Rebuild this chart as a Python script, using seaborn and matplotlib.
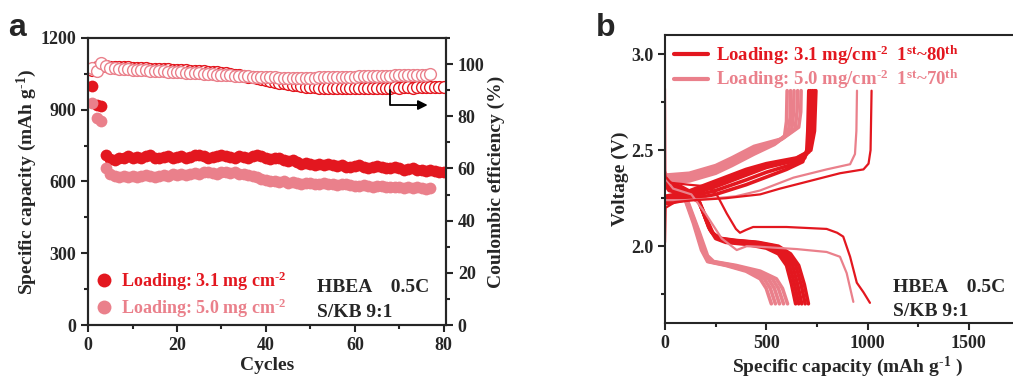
import matplotlib
matplotlib.use('Agg')
import matplotlib.pyplot as plt
import seaborn as sns
from matplotlib.lines import Line2D
from matplotlib.ticker import MultipleLocator

RED = '#E3171F'
PINK = '#EA808B'

# ---- panel a: cycling data ----
cycles_31 = list(range(1, 81))
cycles_50 = list(range(1, 78))

cap_31 = [1000, 920, 915, 712, 695, 690, 700, 698, 705, 700,
          702, 698, 705, 710, 700, 698, 702, 706, 700, 703,
          708, 700, 702, 710, 712, 705, 700, 702, 706, 712,
          708, 702, 700, 705, 703, 700, 708, 712, 706, 700,
          695, 698, 700, 690, 685, 688, 680, 675, 678, 672,
          670, 675, 668, 672, 670, 665, 668, 662, 660, 665,
          668, 660, 658, 662, 665, 660, 655, 658, 660, 655,
          650, 652, 655, 648, 650, 645, 648, 642, 640, 638]

cap_50 = [928, 865, 855, 655, 630, 622, 620, 625, 618, 622,
          620, 625, 628, 622, 620, 625, 628, 625, 630, 628,
          632, 628, 630, 635, 632, 638, 640, 635, 632, 638,
          640, 635, 638, 632, 630, 628, 625, 620, 612, 605,
          600, 602, 598, 600, 595, 598, 592, 590, 595, 592,
          590, 588, 592, 590, 588, 585, 590, 588, 585, 580,
          582, 585, 580, 578, 582, 580, 578, 575, 578, 575,
          573, 575, 572, 575, 573, 570, 572]

ce_31 = [97.6, 98.9, 99.6, 99.2, 99.0, 98.9, 98.8, 98.7, 98.7, 98.6,
         98.5, 98.4, 98.4, 98.3, 98.2, 98.1, 98.0, 98.0, 97.9, 97.8,
         97.7, 97.6, 97.5, 97.4, 97.3, 97.2, 97.1, 96.9, 96.8, 96.6,
         96.4, 96.2, 96.0, 95.8, 95.5, 95.2, 94.9, 94.6, 94.3, 94.0,
         93.6, 93.2, 92.9, 92.6, 92.3, 92.0, 91.8, 91.6, 91.4, 91.3,
         91.1, 91.0, 91.0, 90.9, 90.9, 90.8, 90.8, 90.9, 90.8, 90.8,
         90.9, 90.8, 90.9, 90.9, 91.0, 90.9, 91.0, 91.0, 91.1, 91.0,
         91.1, 91.1, 91.0, 91.2, 91.1, 91.2, 91.2, 91.3, 91.2, 91.3]

ce_50 = [98.5, 97.2, 100.4, 99.3, 98.6, 98.4, 98.3, 98.1, 98.0, 97.9,
         97.8, 97.7, 97.6, 97.5, 97.4, 97.3, 97.2, 97.1, 97.0, 96.9,
         96.8, 96.7, 96.6, 96.5, 96.4, 96.3, 96.2, 96.1, 96.0, 95.9,
         95.8, 95.7, 95.6, 95.5, 95.4, 95.3, 95.2, 95.1, 95.0, 95.0,
         94.9, 94.9, 94.8, 94.8, 94.8, 94.7, 94.8, 94.7, 94.8, 94.8,
         94.8, 94.9, 94.9, 95.0, 95.0, 95.0, 95.1, 95.1, 95.2, 95.2,
         95.3, 95.3, 95.4, 95.4, 95.5, 95.5, 95.6, 95.6, 95.7, 95.7,
         95.8, 95.8, 95.9, 95.9, 96.0, 96.0, 96.1]

# ---- panel b: voltage profiles (capacity mAh/g, voltage V) ----
red_first_dis = [(0, 2.39), (3, 2.36), (30, 2.33), (120, 2.32), (222, 2.31), (260, 2.26),
                 (305, 2.17), (350, 2.09), (370, 2.07), (400, 2.085), (435, 2.10), (600, 2.10),
                 (798, 2.09), (850, 2.07), (880, 2.05), (914, 1.945), (947, 1.81), (980, 1.76),
                 (1012, 1.705)]
red_first_chg = [(0, 2.02), (3, 2.2), (50, 2.23), (150, 2.24), (300, 2.25), (470, 2.27),
                 (568, 2.30), (716, 2.34), (864, 2.38), (980, 2.40), (1005, 2.43), (1015, 2.5),
                 (1020, 2.81)]
pink_first_dis = [(0, 2.82), (3, 2.35), (40, 2.30), (130, 2.27), (200, 2.17), (280, 2.04),
                  (354, 1.98), (403, 2.0), (469, 1.997), (650, 1.985), (798, 1.97), (864, 1.945),
                  (897, 1.86), (930, 1.71)]
pink_first_chg = [(0, 2.24), (100, 2.24), (250, 2.25), (350, 2.26), (469, 2.29), (634, 2.357),
                  (798, 2.40), (914, 2.427), (938, 2.48), (945, 2.6), (948, 2.81)]

red_dis = [
    [(0, 2.36), (20, 2.33), (80, 2.31), (150, 2.27), (180, 2.2), (215, 2.1), (250, 2.04),
     (300, 2.02), (400, 2.01), (500, 1.99), (560, 1.96), (600, 1.90), (625, 1.80), (645, 1.70)],
    [(0, 2.35), (20, 2.32), (85, 2.30), (155, 2.26), (188, 2.18), (220, 2.09), (258, 2.04),
     (310, 2.025), (415, 2.015), (515, 1.995), (575, 1.96), (615, 1.90), (640, 1.80), (660, 1.70)],
    [(0, 2.34), (20, 2.31), (90, 2.29), (160, 2.25), (195, 2.16), (225, 2.08), (265, 2.04),
     (320, 2.03), (430, 2.02), (530, 2.0), (590, 1.96), (630, 1.90), (655, 1.80), (675, 1.70)],
    [(0, 2.33), (20, 2.30), (95, 2.28), (165, 2.24), (202, 2.14), (232, 2.07), (272, 2.04),
     (335, 2.03), (445, 2.02), (545, 2.0), (605, 1.96), (645, 1.90), (672, 1.80), (692, 1.70)],
    [(0, 2.32), (20, 2.29), (100, 2.27), (170, 2.23), (210, 2.13), (240, 2.06), (280, 2.04),
     (350, 2.03), (460, 2.02), (560, 2.0), (620, 1.96), (660, 1.90), (688, 1.80), (708, 1.70)],
]
red_chg = [
    [(0, 2.22), (100, 2.24), (250, 2.27), (400, 2.32), (500, 2.36), (600, 2.40), (680, 2.44),
     (700, 2.5), (705, 2.6), (710, 2.81)],
    [(0, 2.23), (100, 2.25), (250, 2.29), (400, 2.345), (500, 2.385), (610, 2.42), (690, 2.46),
     (710, 2.52), (715, 2.62), (719, 2.81)],
    [(0, 2.24), (100, 2.26), (250, 2.31), (400, 2.37), (500, 2.41), (620, 2.44), (700, 2.48),
     (720, 2.55), (725, 2.65), (728, 2.81)],
    [(0, 2.25), (100, 2.27), (250, 2.325), (400, 2.385), (500, 2.42), (635, 2.45), (710, 2.49),
     (729, 2.57), (735, 2.65), (737, 2.81)],
    [(0, 2.26), (100, 2.28), (250, 2.34), (400, 2.40), (500, 2.43), (650, 2.46), (720, 2.5),
     (738, 2.6), (745, 2.81)],
]
pink_dis = [
    [(0, 2.38), (30, 2.34), (90, 2.27), (140, 2.12), (180, 1.98), (210, 1.92), (300, 1.90),
     (400, 1.87), (470, 1.83), (500, 1.78), (525, 1.70)],
    [(0, 2.375), (30, 2.335), (95, 2.26), (148, 2.11), (188, 1.97), (218, 1.92), (310, 1.90),
     (415, 1.87), (490, 1.83), (520, 1.78), (545, 1.70)],
    [(0, 2.37), (30, 2.33), (100, 2.25), (155, 2.10), (195, 1.96), (225, 1.92), (320, 1.90),
     (430, 1.87), (510, 1.83), (540, 1.78), (565, 1.70)],
    [(0, 2.365), (30, 2.325), (105, 2.245), (162, 2.085), (202, 1.955), (232, 1.92), (335, 1.90),
     (450, 1.87), (530, 1.83), (560, 1.78), (585, 1.70)],
    [(0, 2.36), (30, 2.32), (110, 2.24), (170, 2.07), (210, 1.95), (240, 1.92), (350, 1.90),
     (470, 1.87), (550, 1.83), (580, 1.78), (605, 1.70)],
]
pink_chg = [
    [(0, 2.33), (120, 2.34), (250, 2.38), (330, 2.42), (440, 2.48), (540, 2.53), (590, 2.57),
     (600, 2.65), (603, 2.81)],
    [(0, 2.34), (120, 2.35), (250, 2.39), (330, 2.43), (440, 2.49), (550, 2.54), (608, 2.585),
     (618, 2.67), (620, 2.81)],
    [(0, 2.35), (120, 2.36), (250, 2.40), (330, 2.44), (440, 2.50), (560, 2.55), (625, 2.6),
     (635, 2.7), (637, 2.81)],
    [(0, 2.36), (120, 2.37), (250, 2.41), (330, 2.45), (440, 2.51), (570, 2.555), (642, 2.61),
     (652, 2.7), (655, 2.81)],
    [(0, 2.37), (120, 2.38), (250, 2.42), (330, 2.46), (440, 2.52), (580, 2.56), (660, 2.62),
     (670, 2.7), (672, 2.81)],
]

sns.set_style('ticks')
plt.rcParams['font.family'] = ['Liberation Serif', 'DejaVu Serif']
plt.rcParams['font.weight'] = 'bold'
plt.rcParams['axes.labelweight'] = 'bold'
plt.rcParams['mathtext.fontset'] = 'custom'
plt.rcParams['mathtext.rm'] = 'Liberation Serif:bold'
plt.rcParams['mathtext.it'] = 'Liberation Serif:bold'
plt.rcParams['mathtext.bf'] = 'Liberation Serif:bold'
plt.rcParams['mathtext.default'] = 'regular'
plt.rcParams['axes.linewidth'] = 1.5

fig = plt.figure(figsize=(10.13, 3.78), dpi=100)


def style_ticks(axis):
    axis.tick_params(which='major', direction='out', length=5, width=1.5, labelsize=13)
    axis.tick_params(which='minor', direction='out', length=3, width=1.5)


SUP = '$^{\\text{-2}}$'

# ================= panel a =================
ax = fig.add_axes([0.0869, 0.1402, 0.3534, 0.7593])
sns.scatterplot(x=cycles_31, y=cap_31, color=RED, s=72, linewidth=0, ax=ax, zorder=3)
sns.scatterplot(x=cycles_50, y=cap_50, color=PINK, s=72, linewidth=0, ax=ax, zorder=3)
ax.set_xlim(0, 80.5)
ax.set_ylim(0, 1200)
ax.xaxis.set_major_locator(MultipleLocator(20))
ax.xaxis.set_minor_locator(MultipleLocator(10))
ax.yaxis.set_major_locator(MultipleLocator(300))
ax.yaxis.set_minor_locator(MultipleLocator(150))
style_ticks(ax)
ax.set_xlabel('Cycles', fontsize=14, labelpad=2)
ax.set_ylabel('Specific capacity (mAh g$^{\\text{-1}}$)', fontsize=14, labelpad=1)

ax2 = ax.twinx()
sns.scatterplot(x=cycles_31, y=ce_31, s=72, facecolor='white', edgecolor=RED,
                linewidth=1.0, ax=ax2)
sns.scatterplot(x=cycles_50, y=ce_50, s=72, facecolor='white', edgecolor=PINK,
                linewidth=1.0, ax=ax2)
ax2.set_ylim(0, 110)
ax2.yaxis.set_major_locator(MultipleLocator(20))
ax2.yaxis.set_minor_locator(MultipleLocator(10))
style_ticks(ax2)
ax2.set_ylabel('Coulombic efficiency (%)', fontsize=14, rotation=90, labelpad=2)
for sp in ax2.spines.values():
    sp.set_linewidth(1.5)

# arrow pointing to the right axis
ax2.plot([68, 68, 72], [90, 84.3, 84.3], color='black', lw=1.3)
ax2.annotate('', xy=(77, 84.3), xytext=(71.5, 84.3),
             arrowprops=dict(arrowstyle='-|>', color='black', lw=1.3, mutation_scale=14))

handles_a = [Line2D([], [], ls='none', marker='o', ms=10, color=RED, mec='none'),
             Line2D([], [], ls='none', marker='o', ms=10, color=PINK, mec='none')]
leg = ax.legend(handles_a, ['Loading: 3.1 mg cm' + SUP, 'Loading: 5.0 mg cm' + SUP],
                loc='lower left', bbox_to_anchor=(-0.02, -0.025), frameon=False,
                fontsize=13, handletextpad=0.3, labelspacing=0.2, borderaxespad=0.3,
                handlelength=1.2)
for t, c in zip(leg.get_texts(), [RED, PINK]):
    t.set_color(c)
ax.text(51.5, 155, 'HBEA    0.5C', fontsize=14, va='center')
ax.text(51.5, 54, 'S/KB 9:1', fontsize=14, va='center')

# ================= panel b =================
bx = fig.add_axes([0.6565, 0.1455, 0.3598, 0.7619])
for pts in pink_dis + pink_chg:
    xs, ys = zip(*pts)
    sns.lineplot(x=list(xs), y=list(ys), sort=False, estimator=None, color=PINK, lw=2.6, ax=bx)
for pts in red_dis + red_chg:
    xs, ys = zip(*pts)
    sns.lineplot(x=list(xs), y=list(ys), sort=False, estimator=None, color=RED, lw=2.6, ax=bx)
for pts, c in [(pink_first_dis, PINK), (pink_first_chg, PINK),
               (red_first_dis, RED), (red_first_chg, RED)]:
    xs, ys = zip(*pts)
    sns.lineplot(x=list(xs), y=list(ys), sort=False, estimator=None, color=c, lw=1.6, ax=bx)

bx.set_xlim(0, 1800)
bx.set_ylim(1.6, 3.1)
bx.xaxis.set_major_locator(MultipleLocator(500))
bx.xaxis.set_minor_locator(MultipleLocator(250))
bx.yaxis.set_major_locator(MultipleLocator(0.5))
bx.yaxis.set_minor_locator(MultipleLocator(0.25))
style_ticks(bx)
bx.set_xlabel('Specific capacity (mAh g$^{\\text{-1}}$ )', fontsize=14, labelpad=2)
bx.set_ylabel('Voltage (V)', fontsize=14, labelpad=1)

handles_b = [Line2D([], [], color=RED, lw=3), Line2D([], [], color=PINK, lw=3)]
legb = bx.legend(handles_b, ['Loading: 3.1 mg/cm' + SUP + '  1$^{st}$~80$^{th}$',
                             'Loading: 5.0 mg/cm' + SUP + '  1$^{st}$~70$^{th}$'],
                 loc='upper left', bbox_to_anchor=(-0.005, 1.01), frameon=False, fontsize=13.5,
                 handletextpad=0.4, labelspacing=0.05, borderaxespad=0.2, handlelength=1.8)
for t, c in zip(legb.get_texts(), [RED, PINK]):
    t.set_color(c)
bx.text(1126, 1.783, 'HBEA    0.5C', fontsize=14, va='center')
bx.text(1126, 1.66, 'S/KB 9:1', fontsize=14, va='center')

fig.text(0.008, 0.905, 'a', fontsize=23, fontweight='bold', family='Liberation Sans')
fig.text(0.588, 0.905, 'b', fontsize=23, fontweight='bold', family='Liberation Sans')

fig.savefig('out.png', dpi=100)
